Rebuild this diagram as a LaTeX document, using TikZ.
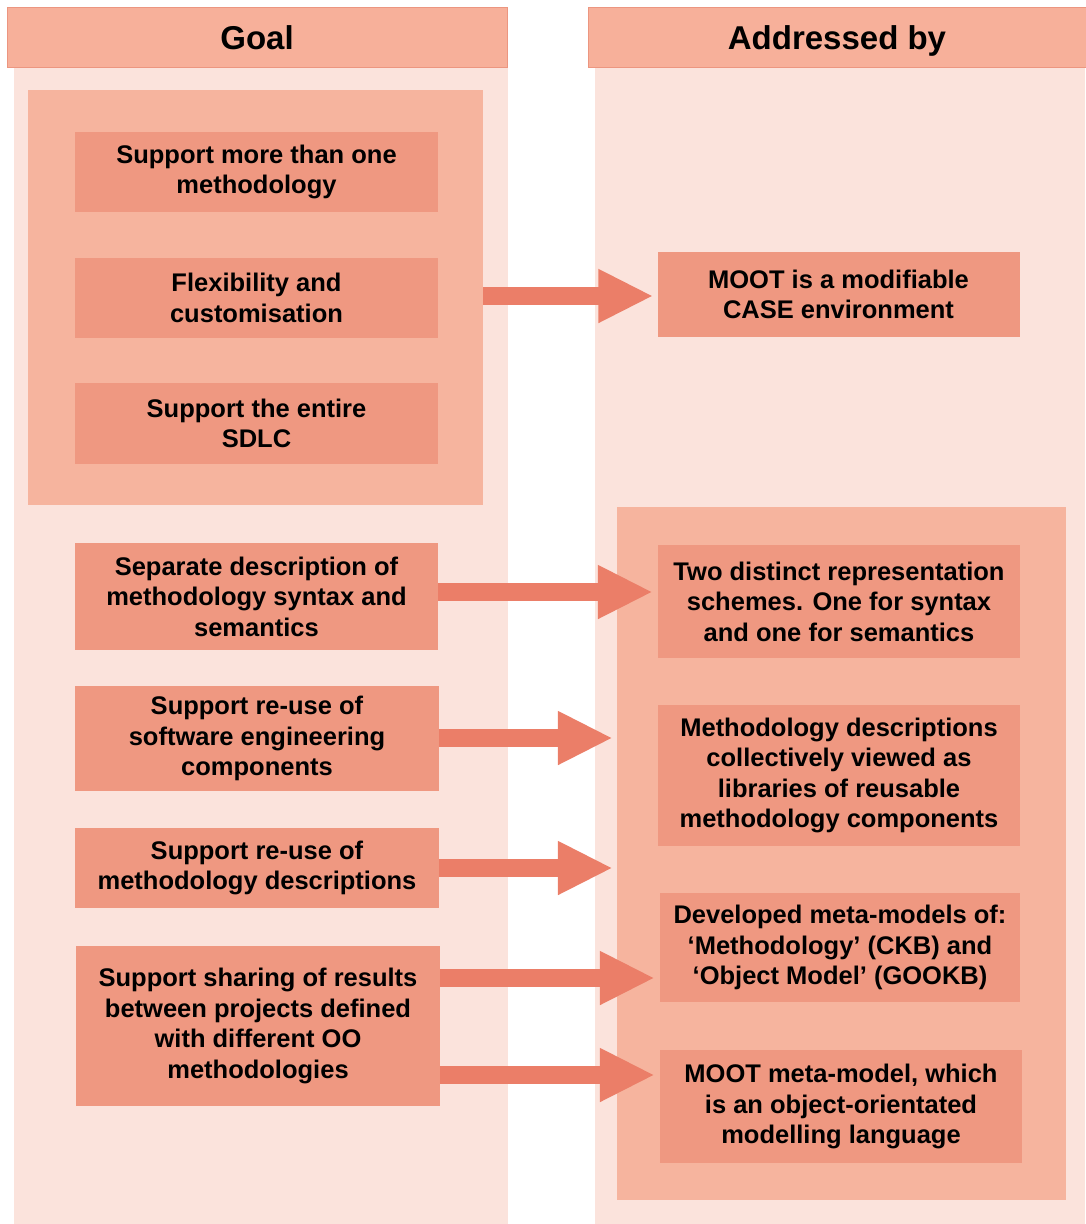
\documentclass[tikz,border=0pt]{standalone}
\usepackage{fontspec}
\setmainfont{Liberation Sans}
\usetikzlibrary{arrows.meta}

\definecolor{colbg}{RGB}{251,227,220}
\definecolor{headfill}{RGB}{247,176,154}
\definecolor{headline}{RGB}{236,150,128}
\definecolor{groupfill}{RGB}{246,180,158}
\definecolor{itemfill}{RGB}{239,152,129}
\definecolor{arrowfill}{RGB}{235,126,104}

\tikzset{
  column/.style={fill=colbg, draw=none},
  header/.style={fill=headfill, draw=headline, line width=0.8pt,
    text height=24pt, text depth=0pt,
    font=\bfseries\fontsize{33}{38}\selectfont},
  group/.style={fill=groupfill, draw=none},
  item/.style={fill=itemfill, draw=none, inner sep=0pt, align=center,
    font=\bfseries\fontsize{25.5}{30.5}\selectfont},
  blockarrow/.style={draw=arrowfill, line width=18pt,
    -{Triangle[length=55pt,width=50pt,fill=arrowfill]}},
}

\begin{document}
\begin{tikzpicture}[x=1pt,y=-1pt]
  \useasboundingbox (0,0) rectangle (1085,1224);

  % column backgrounds
  \node[column, minimum width=494pt, minimum height=1157pt] (colL) at (261,645.5) {};
  \node[column, minimum width=490pt, minimum height=1157pt] (colR) at (840,645.5) {};

  % headers
  \node[header, minimum width=500pt, minimum height=60pt] (hg) at (257,37) {Goal};
  \node[header, minimum width=498pt, minimum height=60pt] (ha) at (837,37) {Addressed by};

  % grouping panels
  \node[group, minimum width=455pt, minimum height=415pt] (gg) at (255.5,297.5) {};
  \node[group, minimum width=449pt, minimum height=693pt] (ag) at (841.5,853.5) {};

  % goals
  \node[item, minimum width=363pt, minimum height=80pt] (g1) at (256.5,172) {Support more than one\\methodology};
  \node[item, minimum width=363pt, minimum height=80pt] (g2) at (256.5,298) {Flexibility and\\customisation};
  \node[item, minimum width=363pt, minimum height=81pt] (g3) at (256.5,423.5) {Support the entire\\SDLC};
  \node[item, minimum width=363pt, minimum height=107pt] (g4) at (256.5,596.5) {Separate description of\\methodology syntax and\\semantics};
  \node[item, minimum width=364pt, minimum height=105pt] (g5) at (257,738.5) {Support re-use of\\software engineering\\components};
  \node[item, minimum width=364pt, minimum height=80pt] (g6) at (257,868) {Support re-use of\\methodology descriptions};
  \node[item, minimum width=364pt, minimum height=160pt] (g7) at (258,1026) {Support sharing of results\\between projects defined\\with different OO\\methodologies};

  % solutions
  \node[item, minimum width=362pt, minimum height=85pt] (a1) at (838.5,294.5) {MOOT is a modifiable\\CASE environment};
  \node[item, minimum width=362pt, minimum height=113pt] (a2) at (839,601.5) {Two distinct representation\\schemes. One for syntax\\and one for semantics};
  \node[item, minimum width=362pt, minimum height=141pt] (a3) at (839,775.5) {Methodology descriptions\\collectively viewed as\\libraries of reusable\\methodology components};
  \node[item, minimum width=360pt, minimum height=109pt] (a4) at (840,947.5) {Developed meta-models of:\\‘Methodology’ (CKB) and\\‘Object Model’ (GOOKB)};
  \node[item, minimum width=362pt, minimum height=113pt] (a5) at (841,1106.5) {MOOT meta-model, which\\is an object-orientated\\modelling language};

  % arrow levels
  \coordinate (y1) at (0,296);
  \coordinate (y2) at (0,592);
  \coordinate (y3) at (0,738);
  \coordinate (y4) at (0,868);
  \coordinate (y5) at (0,978);
  \coordinate (y6) at (0,1075);

  % connectors
  \draw[blockarrow] (gg.east |- y1) -- ([xshift=-4pt]a1.west |- y1);
  \draw[blockarrow] (g4.east |- y2) -- ([xshift=-5pt]a2.west |- y2);
  \draw[blockarrow] (g5.east |- y3) -- ([xshift=-4pt]ag.west |- y3);
  \draw[blockarrow] (g6.east |- y4) -- ([xshift=-4pt]ag.west |- y4);
  \draw[blockarrow] (g7.east |- y5) -- ([xshift=-5pt]a4.west |- y5);
  \draw[blockarrow] (g7.east |- y6) -- ([xshift=-5pt]a5.west |- y6);
\end{tikzpicture}
\end{document}
